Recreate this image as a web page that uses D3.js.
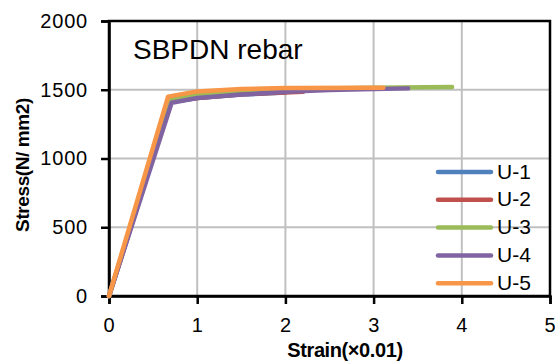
<!DOCTYPE html>
<html>
<head>
<meta charset="utf-8">
<script src="https://cdn.jsdelivr.net/npm/d3@7"></script>
<style>
  body { margin: 0; background: #fff; }
  text { font-family: "Liberation Sans", Arial, sans-serif; }
</style>
</head>
<body>
<svg id="chart" width="555" height="362"></svg>
<script>
const seriesNames = ['U-1', 'U-2', 'U-3', 'U-4', 'U-5']
const seriesColors = ['#4F81BD', '#C0504D', '#9BBB59', '#8064A2', '#F79646']

// strain (x0.01) / stress (N/mm2)
const u1Strain = [0, 0.7, 1.0, 1.5, 2.0]
const u1Stress = [0, 1410, 1440, 1465, 1480]
const u2Strain = [0, 0.7, 1.0, 1.5, 2.2]
const u2Stress = [0, 1415, 1440, 1468, 1485]
const u3Strain = [0, 0.69, 1.0, 1.5, 2.0, 3.0, 3.89]
const u3Stress = [0, 1425, 1465, 1495, 1505, 1515, 1520]
const u4Strain = [0, 0.71, 1.0, 1.5, 2.0, 2.5, 3.39]
const u4Stress = [0, 1405, 1440, 1465, 1485, 1498, 1510]
const u5Strain = [0, 0.67, 1.0, 1.5, 2.0, 3.11]
const u5Stress = [0, 1450, 1488, 1505, 1512, 1515]

const xTicks = [0, 1, 2, 3, 4, 5]
const yTicks = [0, 500, 1000, 1500, 2000]

const strains = [u1Strain, u2Strain, u3Strain, u4Strain, u5Strain]
const stresses = [u1Stress, u2Stress, u3Stress, u4Stress, u5Stress]

const margin = { top: 21, right: 5, bottom: 66, left: 109 }
const width = 555
const height = 362
const plotW = width - margin.left - margin.right
const plotH = height - margin.top - margin.bottom

const svg = d3.select('#chart')
const g = svg.append('g').attr('transform', `translate(${margin.left},${margin.top})`)

const x = d3.scaleLinear().domain([0, 5]).range([0, plotW])
const y = d3.scaleLinear().domain([0, 2000]).range([plotH, 0])

// grid
g.append('g')
  .selectAll('line')
  .data(xTicks.slice(1, -1))
  .join('line')
  .attr('x1', d => x(d)).attr('x2', d => x(d))
  .attr('y1', 0).attr('y2', plotH)
  .attr('stroke', '#c0c0c0').attr('stroke-width', 2)

g.append('g')
  .selectAll('line')
  .data(yTicks.slice(1, -1))
  .join('line')
  .attr('x1', 0).attr('x2', plotW)
  .attr('y1', d => y(d)).attr('y2', d => y(d))
  .attr('stroke', '#c0c0c0').attr('stroke-width', 2)

// frame
g.append('rect')
  .attr('x', 0).attr('y', 0)
  .attr('width', plotW).attr('height', plotH)
  .attr('fill', 'none')
  .attr('stroke', '#000').attr('stroke-width', 2.5)

// axes
const xAxis = g.append('g')
  .attr('transform', `translate(0,${plotH})`)
  .call(d3.axisBottom(x).tickValues(xTicks).tickSize(8).tickPadding(14).tickFormat(d3.format('d')))
const yAxis = g.append('g')
  .call(d3.axisLeft(y).tickValues(yTicks).tickSize(8).tickPadding(13).tickFormat(d3.format('d')))

;[xAxis, yAxis].forEach(a => {
  a.select('.domain').attr('stroke', '#000').attr('stroke-width', 2.5)
  a.selectAll('.tick line').attr('stroke', '#000').attr('stroke-width', 2.5)
  a.selectAll('.tick text')
    .attr('fill', '#000')
    .style('font-size', '20px')
    .style('letter-spacing', '0.8px')
    .style('font-family', '"Liberation Sans", Arial, sans-serif')
})

// curves
const line = d3.line()
  .x(d => x(d[0]))
  .y(d => y(d[1]))

seriesNames.forEach((name, i) => {
  const pts = strains[i].map((s, j) => [s, stresses[i][j]])
  g.append('path')
    .datum(pts)
    .attr('d', line)
    .attr('fill', 'none')
    .attr('stroke', seriesColors[i])
    .attr('stroke-width', 4.5)
    .attr('stroke-linecap', 'round')
    .attr('stroke-linejoin', 'round')
})

// title inside plot
g.append('text')
  .attr('x', 24).attr('y', 38)
  .style('font-size', '28px')
  .text('SBPDN rebar')

// legend
const legend = svg.append('g')
seriesNames.forEach((name, i) => {
  const ly = 172 + i * 27.8
  legend.append('line')
    .attr('x1', 438).attr('x2', 491)
    .attr('y1', ly).attr('y2', ly)
    .attr('stroke', seriesColors[i]).attr('stroke-width', 4.5)
    .attr('stroke-linecap', 'round')
  legend.append('text')
    .attr('x', 497).attr('y', ly + 6.5)
    .style('font-size', '21px')
    .text(name)
})

// axis titles
svg.append('text')
  .attr('x', 345).attr('y', 357)
  .attr('text-anchor', 'middle')
  .style('font-size', '20px')
  .style('font-weight', 'bold')
  .style('letter-spacing', '-0.4px')
  .text('Strain(×0.01)')

svg.append('text')
  .attr('transform', 'translate(29,165) rotate(-90)')
  .attr('text-anchor', 'middle')
  .style('font-size', '19px')
  .style('font-weight', 'bold')
  .style('letter-spacing', '-0.4px')
  .text('Stress(N/ mm2)')
</script>
</body>
</html>
